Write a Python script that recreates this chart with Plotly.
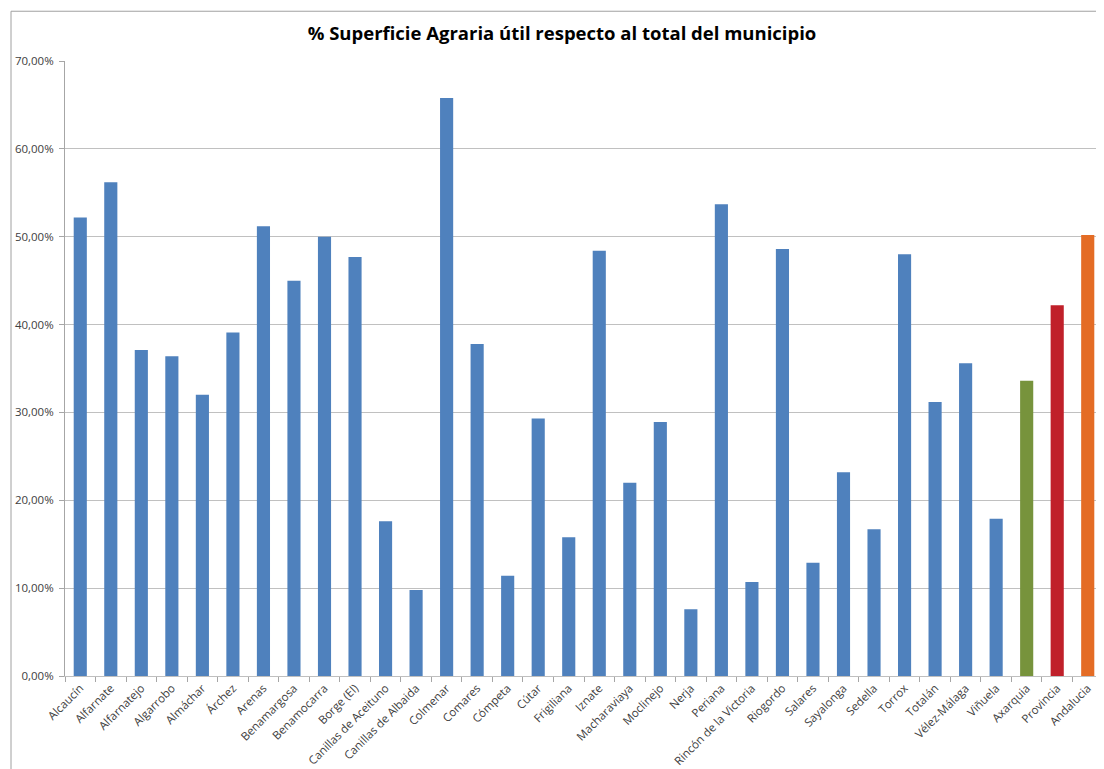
import plotly.graph_objects as go

categories = ["Alcaucín", "Alfarnate", "Alfarnatejo", "Algarrobo", "Almáchar", "Árchez",
              "Arenas", "Benamargosa", "Benamocarra", "Borge (El)", "Canillas de Aceituno",
              "Canillas de Albaida", "Colmenar", "Comares", "Cómpeta", "Cútar", "Frigiliana",
              "Iznate", "Macharaviaya", "Moclinejo", "Nerja", "Periana", "Rincón de la Victoria",
              "Riogordo", "Salares", "Sayalonga", "Sedella", "Torrox", "Totalán", "Vélez-Málaga",
              "Viñuela", "Axarquia", "Provincia", "Andalucia"]

values_pct = [52.2, 56.2, 37.1, 36.4, 32.0, 39.1,
              51.2, 45.0, 50.0, 47.7, 17.6,
              9.8, 65.8, 37.8, 11.4, 29.3, 15.8,
              48.4, 22.0, 28.9, 7.6, 53.7, 10.7,
              48.6, 12.9, 23.2, 16.7, 48.0, 31.2, 35.6,
              17.9, 33.6, 42.2, 50.2]

BLUE = "#4F81BD"
special_colors = {"Axarquia": "#77933C", "Provincia": "#C0202A", "Andalucia": "#E46C25"}
colors = [special_colors.get(c, BLUE) for c in categories]

y_ticks = [0, 0.1, 0.2, 0.3, 0.4, 0.5, 0.6, 0.7]

W, H = 1096, 761
ML, MR, MT, MB = 57, 1, 53, 90
PW, PH = W - ML - MR, H - MT - MB

fig = go.Figure(go.Bar(
    x=categories,
    y=[v / 100 for v in values_pct],
    marker=dict(color=colors, line=dict(width=0)),
    hovertemplate="%{x}: %{y:.2%}<extra></extra>",
))

FONT = "Open Sans, Liberation Sans, sans-serif"

fig.update_layout(
    width=W, height=H,
    paper_bgcolor="white", plot_bgcolor="white",
    separators=",.",
    margin=dict(l=ML, r=MR, t=MT, b=MB),
    bargap=0.57,
    showlegend=False,
    font=dict(family=FONT, color="#404040", size=11),
    title=dict(text="<b>% Superficie Agraria útil respecto al total del municipio</b>",
               x=554 / W, xref="container", xanchor="center",
               y=1 - 26 / H, yref="container", yanchor="middle",
               font=dict(size=18.5, color="#000000", family=FONT)),
    xaxis=dict(
        type="category", tickangle=-45, tickson="boundaries",
        ticks="outside", ticklen=5, tickcolor="#A6A6A6",
        showline=True, linecolor="#BFBFBF", linewidth=1,
        showgrid=False, tickfont=dict(size=11.5, color="#404040"),
    ),
    yaxis=dict(
        range=[0, 0.7], tickvals=y_ticks, tickformat=".2%",
        ticks="outside", ticklen=5, tickcolor="#A6A6A6",
        ticklabelstandoff=3,
        showline=True, linecolor="#A6A6A6", linewidth=1,
        showgrid=True, gridcolor="#C0C0C0", gridwidth=1,
        zeroline=False, tickfont=dict(size=11.5, color="#404040"),
    ),
    shapes=[dict(type="rect", xref="paper", yref="paper",
                 x0=(3 - ML) / PW, x1=1.05, y0=-0.3, y1=1 + (MT - 3) / PH,
                 line=dict(color="#A0A0A0", width=1), fillcolor="rgba(0,0,0,0)", layer="below")],
)

fig.write_html("out.html")
